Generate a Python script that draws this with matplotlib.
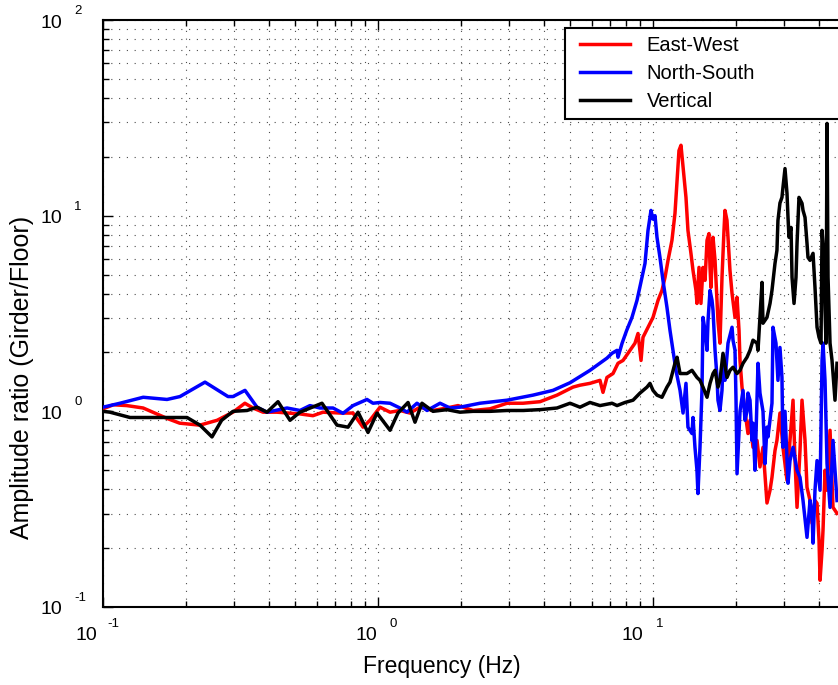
import matplotlib
matplotlib.use("Agg")
import matplotlib.pyplot as plt
from matplotlib.ticker import NullFormatter, LogLocator
from matplotlib.lines import Line2D
from matplotlib.legend_handler import HandlerLine2D

plt.rcParams['font.family'] = ['Liberation Sans', 'DejaVu Sans']

# East-West (Girder/Floor)
ew_freq = [0.1, 0.109, 0.122, 0.14, 0.171, 0.19, 0.225, 0.26, 0.297, 0.328, 0.351, 0.382, 0.429,
           0.52, 0.58, 0.631, 0.728, 0.811, 0.882, 0.935, 1.017, 1.106, 1.202, 1.307, 1.421, 1.585,
           1.782, 1.954, 2.216, 2.555, 2.945, 3.368, 3.882, 4.476, 5.119, 5.426, 5.9, 6.416, 6.579,
           6.8, 7.154, 7.46, 7.781, 8.25, 8.6, 8.82, 9.046, 9.197, 9.59, 10.0, 10.43, 10.78, 11.06,
           11.34, 11.72, 12.02, 12.23, 12.43, 12.64, 12.86, 13.18, 13.4, 13.74, 13.98, 14.33, 14.45,
           14.70, 14.94, 15.2, 15.46, 15.72, 15.98, 16.12, 16.25, 16.53, 16.81, 17.09, 17.23, 17.52,
           17.82, 18.12, 18.27, 18.58, 18.74, 19.05, 19.38, 19.87, 20.21, 20.55, 20.72, 21.07, 21.6,
           22.15, 22.53, 23.1, 23.89, 24.49, 25.12, 25.97, 26.64, 27.08, 27.77, 28.23, 28.95, 29.69,
           30.71, 31.49, 32.03, 32.3, 32.84, 33.4, 34.24, 34.82, 35.71, 36.31, 37.24, 37.87, 38.82,
           39.49, 40.15, 40.5, 41.18, 41.52, 42.22, 42.94, 44.03, 45.14, 46.68]
ew_amp = [1.03, 1.08, 1.07, 1.04, 0.92, 0.87, 0.85, 0.90, 0.99, 1.10, 1.04, 0.99, 0.99,
          0.97, 0.95, 0.99, 0.98, 0.98, 0.83, 0.90, 1.05, 0.99, 1.01, 0.98, 1.05, 1.01,
          1.04, 1.07, 1.01, 1.03, 1.10, 1.10, 1.12, 1.21, 1.33, 1.36, 1.39, 1.44, 1.25,
          1.49, 1.56, 1.76, 1.82, 2.05, 2.23, 2.5, 1.82, 2.39, 2.69, 3.02, 3.69, 4.15, 4.84,
          5.91, 7.48, 10.27, 15.1, 21.5, 22.9, 17.7, 12.4, 8.41, 6.42, 5.25, 4.15, 3.56,
          5.44, 3.56, 5.44, 4.67, 7.48, 8.1, 5.44, 4.3, 7.75, 5.91, 3.69, 2.9, 2.23,
          4.84, 8.41, 10.64, 9.46, 7.75, 5.25, 4.01, 3.02, 3.82, 2.59, 1.82, 1.33, 1.0,
          0.77, 0.90, 0.655, 0.71, 0.52, 0.655, 0.34, 0.395, 0.46, 0.63, 0.71, 0.98, 0.655,
          0.444, 0.71, 0.98, 1.14, 0.56, 0.323, 0.63, 1.14, 0.71, 0.409, 0.35, 0.268, 0.35,
          0.339, 0.22, 0.137, 0.195, 0.247, 0.5, 0.395, 0.8, 0.323, 0.301]

# North-South
ns_freq = [0.1, 0.1153, 0.14, 0.1709, 0.1905, 0.2349, 0.2848, 0.297, 0.3284, 0.3631, 0.3948,
           0.4669, 0.5204, 0.5657, 0.6152, 0.6862, 0.7461, 0.8114, 0.912, 0.959, 1.017, 1.106,
           1.202, 1.275, 1.386, 1.508, 1.681, 1.827, 1.987, 2.349, 2.945, 3.661, 4.329, 4.993,
           5.9, 6.8, 7.094, 7.40, 7.46, 7.72, 8.02, 8.385, 8.745, 9.12, 9.352, 9.59, 9.833, 10.0,
           10.17, 10.34, 10.6, 10.87, 11.24, 11.53, 11.82, 12.12, 12.54, 12.86, 13.18, 13.4, 13.86,
           13.98, 14.21, 14.45, 14.57, 14.82, 15.07, 15.2, 15.46, 15.72, 15.85, 16.12, 16.39, 16.53,
           16.81, 17.09, 17.23, 17.52, 17.82, 17.97, 18.27, 18.74, 19.05, 19.38, 19.54, 19.87,
           20.04, 20.21, 20.72, 21.25, 21.6, 21.97, 22.15, 22.53, 22.91, 23.1, 23.49, 24.09, 24.49,
           25.12, 25.54, 25.97, 26.19, 27.08, 27.31, 28.0, 28.47, 28.95, 29.44, 29.69, 30.2, 30.97,
           31.49, 32.3, 33.4, 34.24, 35.12, 36.31, 37.24, 37.87, 38.19, 38.82, 39.49, 40.5, 41.18,
           41.52, 42.22, 42.94, 44.03, 45.14, 46.68]
ns_amp = [1.05, 1.10, 1.18, 1.15, 1.19, 1.41, 1.19, 1.19, 1.28, 1.05, 0.99,
          1.04, 1.01, 1.07, 1.04, 1.04, 0.977, 1.07, 1.15, 1.10, 1.11, 1.10,
          1.04, 0.99, 1.10, 1.01, 1.10, 1.04, 1.05, 1.10, 1.14, 1.21, 1.28, 1.40,
          1.62, 1.87, 1.98, 2.05, 1.89, 2.23, 2.59, 3.02, 3.69, 4.84, 5.7, 8.41, 10.64, 9.6,
          10.0, 7.75, 6.12, 4.67, 3.4, 2.59, 2.05, 1.62, 1.28, 0.98, 1.39, 0.83, 0.77,
          0.93, 0.655, 0.50, 0.38, 0.655, 1.28, 3.02, 2.59, 2.05, 2.9, 4.15, 3.69, 3.28,
          2.05, 1.49, 1.14, 1.01, 1.28, 1.76, 1.44, 2.23, 2.44, 2.69, 2.31, 2.05,
          1.14, 0.48, 1.0, 1.28, 0.9, 1.0, 1.24, 1.14, 0.71, 0.87, 0.5, 1.76, 1.24,
          1.0, 0.54, 0.83, 0.74, 1.10, 2.69, 2.23, 1.44, 2.12, 1.49, 0.655, 1.0, 0.429,
          0.56, 0.655, 0.5, 0.46, 0.35, 0.227, 0.35, 0.30, 0.212, 0.395, 0.56, 0.395, 1.82,
          2.23, 1.44, 0.54, 0.323, 0.71, 0.35]

# Vertical
v_freq = [0.1, 0.106, 0.1254, 0.1572, 0.2021, 0.2253, 0.2491, 0.270, 0.297, 0.334, 0.3631,
          0.3948, 0.4329, 0.4786, 0.5204, 0.6256, 0.7094, 0.7781, 0.8462, 0.9197, 0.9917,
          1.106, 1.182, 1.286, 1.363, 1.445, 1.585, 1.782, 1.987, 2.216, 2.555, 2.945, 3.368,
          3.882, 4.476, 4.993, 5.426, 5.9, 6.416, 7.094, 7.40, 7.912, 8.46, 8.97, 9.51, 9.75,
          10.0, 10.34, 10.78, 11.24, 11.53, 12.02, 12.23, 12.54, 13.29, 13.86, 14.45, 14.82,
          15.2, 15.72, 16.12, 16.53, 16.81, 17.23, 17.52, 17.97, 18.58, 19.05, 19.54, 20.21,
          20.72, 21.25, 21.97, 22.53, 23.1, 23.89, 24.09, 24.91, 25.12, 25.97, 26.64, 27.08,
          27.77, 28.23, 28.47, 28.95, 29.44, 29.69, 30.2, 30.71, 30.97, 31.23, 31.76, 32.03,
          32.57, 33.11, 33.4, 33.95, 34.82, 35.12, 35.71, 36.31, 36.61, 37.24, 38.19, 38.82,
          39.49, 40.15, 40.83, 41.18, 41.87, 42.22, 42.58, 42.94, 43.3, 44.03, 44.77, 45.9, 46.68]
v_amp = [1.0, 0.99, 0.93, 0.93, 0.93, 0.85, 0.74, 0.90, 1.0, 1.01, 1.05,
         0.99, 1.12, 0.90, 0.99, 1.10, 0.85, 0.83, 0.99, 0.78, 0.98,
         0.80, 0.98, 1.11, 0.88, 1.10, 1.0, 1.02, 0.99, 1.0, 1.0, 1.01, 1.01,
         1.02, 1.04, 1.10, 1.05, 1.11, 1.07, 1.10, 1.07, 1.11, 1.14, 1.24, 1.33, 1.39,
         1.28, 1.21, 1.18, 1.33, 1.41, 1.76, 1.89, 1.56, 1.56, 1.62, 1.49, 1.44,
         1.33, 1.18, 1.39, 1.56, 1.62, 1.33, 1.44, 1.98, 1.49, 1.62, 1.68, 1.56,
         1.62, 1.76, 1.89, 2.05, 2.31, 2.23, 2.05, 4.56, 2.82, 3.02, 3.56, 4.15,
         5.7, 6.65, 9.46, 11.6, 12.4, 13.95, 17.4, 13.0, 9.8, 7.75, 8.71, 4.84,
         3.56, 4.84, 7.22, 12.4, 11.56, 10.64, 9.8, 7.22, 6.12, 5.91, 6.42, 4.30,
         2.69, 2.39, 2.23, 8.41, 6.12, 3.28, 2.23, 29.6, 4.84, 2.23, 1.82, 1.14, 1.76]

decades = [-1, 0, 1, 2]

fig = plt.figure(figsize=(8.38, 6.85), dpi=100)
# axes run on past the right edge of the picture (to 100 Hz), as in the reference
ax = fig.add_axes([103 / 838, 78 / 685, 825 / 838, 587 / 685])

ax.plot(ew_freq, ew_amp, color='#ff0000', lw=2.5, label='East-West', zorder=3)
ax.plot(ns_freq, ns_amp, color='#0000ff', lw=2.5, label='North-South', zorder=3)
ax.plot(v_freq, v_amp, color='black', lw=2.5, label='Vertical', zorder=3)

ax.set_xscale('log')
ax.set_yscale('log')
ax.set_xlim(0.1, 100)
ax.set_ylim(0.1, 100)
ax.xaxis.set_minor_locator(LogLocator(base=10, subs=range(2, 10)))
ax.yaxis.set_minor_locator(LogLocator(base=10, subs=range(2, 10)))
ax.xaxis.set_major_formatter(NullFormatter())
ax.xaxis.set_minor_formatter(NullFormatter())
ax.yaxis.set_major_formatter(NullFormatter())
ax.yaxis.set_minor_formatter(NullFormatter())

ax.grid(True, which='both', linestyle=(0, (1, 6)), color='0.3', lw=0.8)
ax.set_axisbelow(True)
ax.tick_params(which='both', direction='in', top=True, right=True, width=1)
ax.tick_params(which='major', length=7)
ax.tick_params(which='minor', length=4)
for s in ax.spines.values():
    s.set_linewidth(1.5)

# matlab style tick labels: "10" with the exponent set up and to the right
xlab_off = {-1: (-6, 4), 0: (-1, 12), 1: (-10, 3)}
for d in decades[:3]:
    dx10, dxe = xlab_off[d]
    ax.annotate('10', xy=(10.0 ** d, 0), xycoords=('data', 'axes fraction'),
                xytext=(dx10, -29), textcoords='offset pixels', ha='right', va='center', fontsize=14)
    ax.annotate(str(d), xy=(10.0 ** d, 0), xycoords=('data', 'axes fraction'),
                xytext=(dxe, -17), textcoords='offset pixels', ha='left', va='center', fontsize=9.5)
for d in decades:
    ax.annotate('10', xy=(0, 10.0 ** d), xycoords=('axes fraction', 'data'),
                xytext=(-41, -3), textcoords='offset pixels', ha='right', va='center', fontsize=14)
    ax.annotate(str(d), xy=(0, 10.0 ** d), xycoords=('axes fraction', 'data'),
                xytext=(-29, 9), textcoords='offset pixels', ha='left', va='center', fontsize=9.5)

fig.text(442 / 838, 1 - 667 / 685, 'Frequency (Hz)', ha='center', va='center', fontsize=16.5)
fig.text(22 / 838, 1 - 377 / 685, 'Amplitude ratio (Girder/Floor)', ha='center', va='center',
         rotation=90, fontsize=18)

leg = ax.legend(loc='upper left', bbox_to_anchor=(565 / 838, 1 - 117 / 685, 300 / 838, 89 / 685),
                bbox_transform=fig.transFigure, mode='expand', fancybox=False, edgecolor='black',
                framealpha=1, fontsize=14.5, handlelength=2.85, handletextpad=0.8,
                labelspacing=0.45, borderpad=0.4, borderaxespad=0,
                handler_map={Line2D: HandlerLine2D(xpad=0.35)})
leg.get_frame().set_linewidth(1.5)

fig.savefig('out.png', dpi=100)
